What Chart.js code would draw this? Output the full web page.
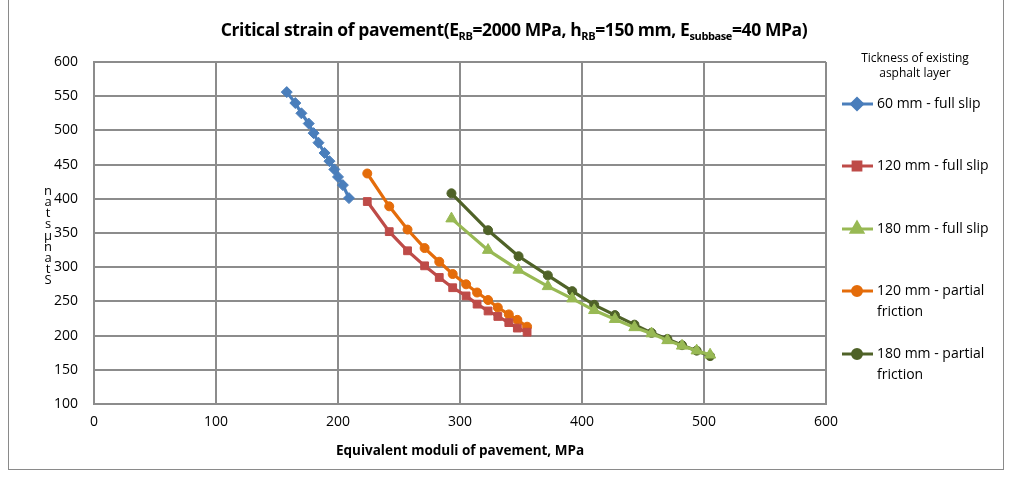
<!DOCTYPE html>
<html>
<head>
<meta charset="utf-8">
<script src="https://cdn.jsdelivr.net/npm/chart.js@4.4.1/dist/chart.umd.min.js"></script>
<style>
  body { margin: 0; background: #fff; }
  #wrap { position: relative; width: 1010px; height: 477px; }
  #frame { position: absolute; left: 8px; top: -2px; width: 996px; height: 472px; border: 1px solid #8a8a8a; box-sizing: border-box; }
  #title {
    position: absolute; left: 0; top: 17px; width: 1028px; text-align: center;
    font-family: "Open Sans", sans-serif; font-weight: bold; font-size: 17.5px; color: #000;
    letter-spacing: -0.4px;
  }
  #title sub { font-size: 11px; vertical-align: -4px; line-height: 0; }
  canvas { position: absolute; left: 0; top: 0; }
</style>
</head>
<body>
<div id="wrap">
  <div id="frame"></div>
  <canvas id="chart" width="1010" height="477"></canvas>
  <div id="title">Critical strain of pavement(E<sub>RB</sub>=2000 MPa, h<sub>RB</sub>=150 mm, E<sub>subbase</sub>=40 MPa)</div>
</div>
<script>
// ============================
// Data
// ============================
const seriesNames = [
    "60 mm - full slip",
    "120 mm - full slip",
    "180 mm - full slip",
    "120 mm - partial friction",
    "180 mm - partial friction"
];

const x60slip = [158, 165, 170, 176, 180, 184, 189, 193, 197, 200, 204, 209];
const y60slip = [556, 540, 525, 510, 496, 482, 467, 455, 443, 432, 420, 401];

const x120 = [224, 242, 257, 271, 283, 294, 305, 314, 323, 331, 340, 347, 355];
const y120slip = [396, 352, 324, 302, 285, 270, 258, 246, 236, 228, 219, 211, 205];
const y120partial = [437, 389, 355, 328, 308, 290, 275, 263, 252, 241, 231, 223, 213];

const x180 = [293, 323, 348, 372, 392, 410, 427, 443, 457, 470, 482, 494, 505];
const y180slip = [371, 325, 296, 272, 254, 237, 224, 212, 203, 193, 185, 178, 172];
const y180partial = [408, 354, 316, 288, 265, 245, 230, 216, 204, 195, 186, 178, 170];

const xTicks = [0, 100, 200, 300, 400, 500, 600];
const yTicks = [100, 150, 200, 250, 300, 350, 400, 450, 500, 550, 600];

const legendTitle = ["Tickness of existing", "asphalt layer"];
const yTitleChars = ["n", "a", "t", "s", "μ", "n", "a", "t", "S"];
const xTitle = "Equivalent moduli of pavement, MPa";

// ============================
// Helpers
// ============================
function toPoints(xs, ys) {
    return xs.map((x, i) => ({ x: x, y: ys[i] }));
}

const colors = ["#4A7EBB", "#BE4B48", "#98B954", "#E46C0A", "#4F6228"];
const markers = ["rectRot", "rect", "triangle", "circle", "circle"];
const markerSizes = [5.5, 5.5, 6.5, 4.5, 4.5];

const seriesData = [
    toPoints(x60slip, y60slip),
    toPoints(x120, y120slip),
    toPoints(x180, y180slip),
    toPoints(x120, y120partial),
    toPoints(x180, y180partial)
];

// ============================
// Custom legend + y title
// ============================
const extras = {
    id: "extras",
    afterDraw(chart) {
        const ctx = chart.ctx;
        ctx.save();
        ctx.fillStyle = "#000";

        // legend title
        ctx.font = "12px 'Open Sans', sans-serif";
        ctx.textAlign = "center";
        ctx.textBaseline = "middle";
        ctx.fillText(legendTitle[0], 915, 59);
        ctx.fillText(legendTitle[1], 915, 74);

        // legend items
        const rows = [104, 166, 229, 291, 354];
        ctx.font = "14px 'Open Sans', sans-serif";
        ctx.textAlign = "left";
        chart.data.datasets.forEach((ds, i) => {
            const y = rows[i];
            ctx.strokeStyle = ds.borderColor;
            ctx.lineWidth = 3;
            ctx.beginPath();
            ctx.moveTo(842, y);
            ctx.lineTo(873, y);
            ctx.stroke();
            Chart.helpers.drawPoint(ctx, {
                pointStyle: ds.pointStyle, radius: ds.pointRadius, borderWidth: 1
            }, 857, y);
            ctx.fillStyle = ds.borderColor;
            ctx.fill();
            ctx.fillStyle = "#000";
            const words = seriesNames[i].split(" - ");
            const parts = (words[1] === "partial friction")
                ? [words[0] + " - partial", "friction"]
                : [seriesNames[i]];
            parts.forEach((t, k) => ctx.fillText(t, 877, y + k * 21));
        });

        // stacked y title
        ctx.font = "13px 'Open Sans', sans-serif";
        ctx.textAlign = "center";
        yTitleChars.forEach((c, k) => ctx.fillText(c, 48, 191 + k * 11.2));

        ctx.restore();
    }
};

// ============================
// Chart
// ============================
const datasets = seriesData.map((pts, i) => ({
    label: seriesNames[i],
    data: pts,
    showLine: true,
    borderColor: colors[i],
    backgroundColor: colors[i],
    borderWidth: 3.2,
    pointStyle: markers[i],
    pointRadius: markerSizes[i],
    pointBorderWidth: 1,
    tension: 0
}));

const chart = new Chart(document.getElementById("chart"), {
    type: "scatter",
    data: { datasets: datasets },
    options: {
        responsive: false,
        animation: false,
        layout: { padding: { left: 0, top: 62, right: 184, bottom: 0 } },
        plugins: {
            legend: { display: false },
            title: { display: false },
            tooltip: { enabled: false }
        },
        scales: {
            x: {
                type: "linear",
                min: 0, max: 600,
                afterBuildTicks: s => { s.ticks = xTicks.map(v => ({ value: v })); },
                afterFit: s => { s.height = 73; },
                grid: { color: "#8c8c8c", lineWidth: 2, drawTicks: false },
                border: { color: "#8c8c8c", width: 2 },
                ticks: {
                    color: "#000", padding: 10,
                    font: { family: "'Open Sans', sans-serif", size: 14 }
                },
                title: {
                    display: true, text: xTitle, color: "#000",
                    padding: { top: 0, bottom: 18 },
                    font: { family: "'Open Sans', sans-serif", size: 13.5, weight: "bold" }
                }
            },
            y: {
                type: "linear",
                min: 100, max: 600,
                afterBuildTicks: s => { s.ticks = yTicks.map(v => ({ value: v })); },
                afterFit: s => { s.width = 94; },
                grid: { color: "#8c8c8c", lineWidth: 2, drawTicks: false },
                border: { color: "#8c8c8c", width: 2 },
                ticks: {
                    color: "#000", padding: 16,
                    font: { family: "'Open Sans', sans-serif", size: 14 }
                }
            }
        }
    },
    plugins: [extras]
});
</script>
</body>
</html>
